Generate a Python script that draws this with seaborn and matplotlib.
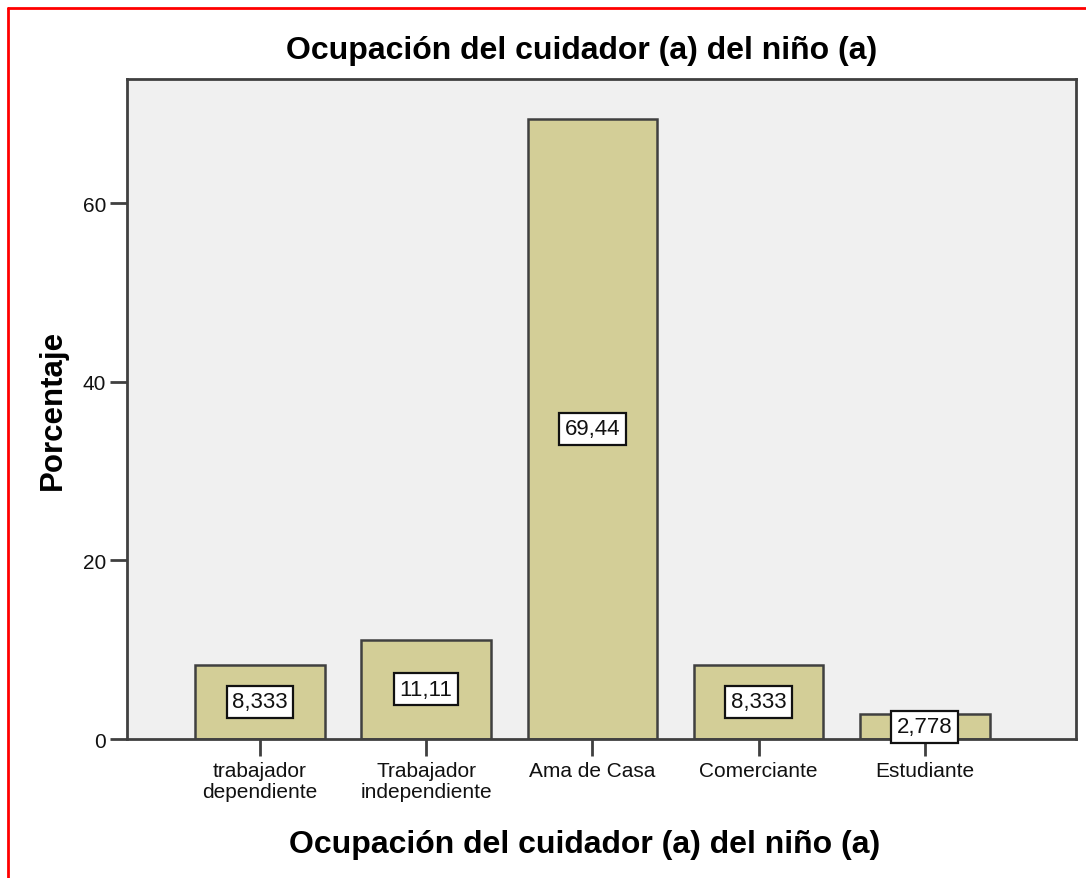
import matplotlib
matplotlib.use("Agg")
import matplotlib.pyplot as plt
import seaborn as sns
import pandas as pd
from matplotlib.lines import Line2D

categories = ["trabajador\ndependiente", "Trabajador\nindependiente", "Ama de Casa", "Comerciante", "Estudiante"]
values = [8.333, 11.11, 69.44, 8.333, 2.778]
yticks = [0, 20, 40, 60]
title = "Ocupación del cuidador (a) del niño (a)"

df = pd.DataFrame({"cat": categories, "pct": values})

sns.set_theme(style="white")
plt.rcParams["font.family"] = ["Liberation Sans", "DejaVu Sans"]
plt.rcParams["text.color"] = "black"

W, H = 1086, 879
fig = plt.figure(figsize=(W / 100, H / 100), dpi=100)
ax = fig.add_axes([127 / W, 1 - 740 / H, (1076 - 127) / W, (740 - 80) / H])
ax.set_facecolor("#F0F0F0")

sns.barplot(data=df, x="cat", y="pct", ax=ax, color="#D3CE97", saturation=1,
            width=0.78, edgecolor="#404040", linewidth=1.8)

ax.set_xlim(-0.80, 4.91)
ax.set_ylim(0, 73.9)
ax.set_yticks(yticks)
ax.set_yticklabels([str(t) for t in yticks])
ax.tick_params(axis="x", labelsize=15, labelcolor="#111111", length=12, width=2,
               color="#404040", bottom=True, pad=4)
ax.tick_params(axis="y", labelsize=15, labelcolor="#111111", length=12, width=2,
               color="#404040", left=True, pad=3)
for lab in ax.get_xticklabels():
    lab.set_linespacing(1.15)
ax.set_xlabel("")
ax.set_ylabel("")
for s in ax.spines.values():
    s.set_visible(True)
    s.set_color("#404040")
    s.set_linewidth(2)

for i, v in enumerate(values):
    lab = f"{v:.4g}".replace(".", ",")
    ax.text(i, v / 2, lab, ha="center", va="center", fontsize=16, color="#111111",
            bbox=dict(boxstyle="square,pad=0.25", facecolor="white", edgecolor="#111111", linewidth=1.6))

fig.text(582 / W, 1 - 59 / H, title, ha="center", va="baseline", fontsize=23, fontweight="bold")
fig.text(585 / W, 1 - 853 / H, title, ha="center", va="baseline", fontsize=23, fontweight="bold")
fig.text(53 / W, 1 - 410 / H, "Porcentaje", ha="center", va="center", rotation=90,
         fontsize=22.5, fontweight="bold")

# red border (top and left)
fig.add_artist(Line2D([8 / W, 1.0], [1 - 9 / H, 1 - 9 / H], color="red", linewidth=2, transform=fig.transFigure))
fig.add_artist(Line2D([8 / W, 8 / W], [1 - 9 / H, 0.0], color="red", linewidth=2, transform=fig.transFigure))

fig.savefig("out.png", dpi=100)
